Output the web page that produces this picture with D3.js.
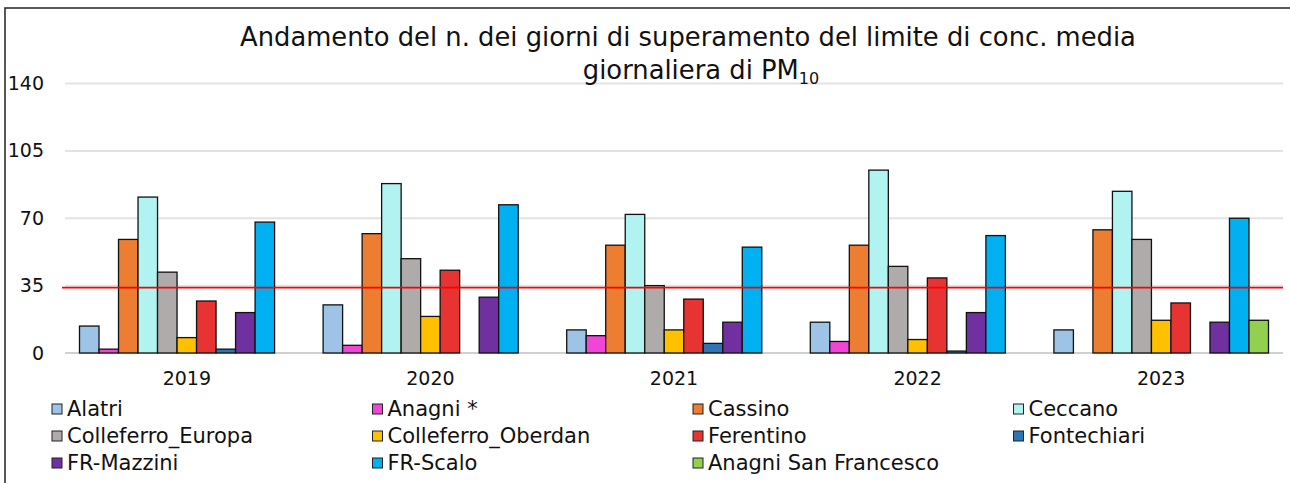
<!DOCTYPE html>
<html>
<head>
<meta charset="utf-8">
<script src="https://cdn.jsdelivr.net/npm/d3@7"></script>
<style>
  html, body { margin: 0; padding: 0; background: #fff; overflow: hidden; }
  svg { display: block; font-family: "DejaVu Sans", sans-serif; }
</style>
</head>
<body>
<div id="chart"></div>
<script>
// ---------------------------
// Dati
// ---------------------------
const years = ['2019', '2020', '2021', '2022', '2023'];
const stations = ['Alatri', 'Anagni *', 'Cassino', 'Ceccano', 'Colleferro_Europa', 'Colleferro_Oberdan',
  'Ferentino', 'Fontechiari', 'FR-Mazzini', 'FR-Scalo', 'Anagni San Francesco'];
const colors = ['#9dc3e6', '#f046d8', '#ed7d31', '#b1f3f1', '#afabab', '#ffc000',
  '#e83333', '#2e75b6', '#7030a0', '#00b0f0', '#92d050'];
// giorni di superamento per stazione, un valore per anno (null = dato assente)
const alatri       = [14, 25, 12, 16, 12];
const anagni       = [2, 4, 9, 6, null];
const cassino      = [59, 62, 56, 56, 64];
const ceccano      = [81, 88, 72, 95, 84];
const europa       = [42, 49, 35, 45, 59];
const oberdan      = [8, 19, 12, 7, 17];
const ferentino    = [27, 43, 28, 39, 26];
const fontechiari  = [2, null, 5, 1, null];
const mazzini      = [21, 29, 16, 21, 16];
const scalo        = [68, 77, 55, 61, 70];
const anagniSF     = [null, null, null, null, 17];
const seriesValues = [alatri, anagni, cassino, ceccano, europa, oberdan, ferentino, fontechiari, mazzini, scalo, anagniSF];
const yTicks = [0, 35, 70, 105, 140];
const limit = 35;

// ---------------------------
// Dimensioni
// ---------------------------
const width = 1290, height = 483;
const plot = { left: 65, right: 1283, top: 83.5, bottom: 353 };

const svg = d3.select('#chart').append('svg')
  .attr('width', width)
  .attr('height', height);

// bordo area grafico (solo lati visibili: alto e sinistra)
svg.append('path')
  .attr('d', `M5,${height} V8 H${width}`)
  .attr('fill', 'none')
  .attr('stroke', '#222')
  .attr('stroke-width', 1.5);

// ---------------------------
// Scale
// ---------------------------
const x0 = d3.scaleBand().domain(years).range([plot.left, plot.right]);
const groupPad = 14.5;
const x1 = d3.scaleBand().domain(stations).range([groupPad, x0.bandwidth() - groupPad]);
const y = d3.scaleLinear().domain([0, 140]).range([plot.bottom, plot.top]);

// griglia
svg.append('g')
  .selectAll('line')
  .data(yTicks)
  .join('line')
  .attr('x1', plot.left).attr('x2', plot.right)
  .attr('y1', d => y(d)).attr('y2', d => y(d))
  .attr('stroke', d => d === 0 ? '#d0d0d0' : '#e3e3e3')
  .attr('stroke-width', 2);

// asse y
const yAxis = svg.append('g')
  .attr('transform', `translate(${plot.left - 21},0)`)
  .call(d3.axisLeft(y).tickValues(yTicks).tickSize(0).tickPadding(0));
yAxis.select('.domain').remove();
yAxis.selectAll('text')
  .attr('font-size', 19)
  .attr('font-family', '"DejaVu Sans", sans-serif')
  .attr('fill', '#111');

// asse x
const xAxis = svg.append('g')
  .attr('transform', `translate(0,${plot.bottom})`)
  .call(d3.axisBottom(x0).tickSize(0).tickPadding(19));
xAxis.select('.domain').remove();
xAxis.selectAll('text')
  .attr('font-size', 19)
  .attr('font-family', '"DejaVu Sans", sans-serif')
  .attr('fill', '#111');

// ---------------------------
// Barre
// ---------------------------
const bars = [];
stations.forEach((s, i) => {
  seriesValues[i].forEach((v, j) => {
    if (v != null) bars.push({ station: s, year: years[j], value: v, color: colors[i] });
  });
});

svg.append('g')
  .selectAll('rect')
  .data(bars)
  .join('rect')
  .attr('x', d => x0(d.year) + x1(d.station))
  .attr('y', d => y(d.value))
  .attr('width', x1.bandwidth())
  .attr('height', d => y(0) - y(d.value))
  .attr('fill', d => d.color)
  .attr('stroke', '#111')
  .attr('stroke-width', 1.3);

// linea limite
svg.append('line')
  .attr('x1', plot.left - 3).attr('x2', plot.right)
  .attr('y1', y(limit) + 2).attr('y2', y(limit) + 2)
  .attr('stroke', '#ff0000')
  .attr('stroke-width', 1.6);

// ---------------------------
// Titolo
// ---------------------------
const title = svg.append('text')
  .attr('text-anchor', 'middle')
  .attr('font-size', 25.8)
  .attr('fill', '#111');
title.append('tspan').attr('x', 688).attr('y', 46)
  .text('Andamento del n. dei giorni di superamento del limite di conc. media');
title.append('tspan').attr('x', 701).attr('y', 79).text('giornaliera di PM');
title.append('tspan').attr('font-size', 16).attr('dy', 5).text('10');

// ---------------------------
// Legenda
// ---------------------------
const legend = svg.append('g');
const item = legend.selectAll('g')
  .data(stations)
  .join('g')
  .attr('transform', (d, i) => `translate(${52 + (i % 4) * 320.5},${409 + Math.floor(i / 4) * 27})`);
item.append('rect')
  .attr('x', 0).attr('y', -5)
  .attr('width', 10).attr('height', 10)
  .attr('fill', (d, i) => colors[i])
  .attr('stroke', '#222')
  .attr('stroke-width', 1);
item.append('text')
  .attr('x', 15).attr('y', 0)
  .attr('dy', '0.35em')
  .attr('font-size', 21)
  .attr('fill', '#111')
  .text(d => d);
</script>
</body>
</html>
